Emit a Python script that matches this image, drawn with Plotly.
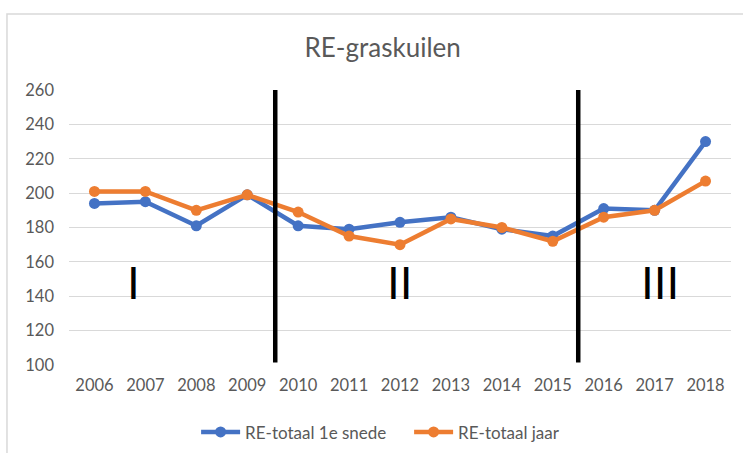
import plotly.graph_objects as go

years = ["2006", "2007", "2008", "2009", "2010", "2011", "2012",
         "2013", "2014", "2015", "2016", "2017", "2018"]
re_totaal_1e_snede = [194, 195, 181, 199, 181, 179, 183, 186, 179, 175, 191, 190, 230]
re_totaal_jaar = [201, 201, 190, 199, 189, 175, 170, 185, 180, 172, 186, 190, 207]
phase_labels = ["I", "II", "III"]
phase_label_x = [0.77, 6.0, 11.1]
phase_label_y = [148, 148, 148]
phase_boundaries = [3.55, 9.5]

BLUE = "#4472C4"
ORANGE = "#ED7D31"
GRAY_TEXT = "#595959"
GRID = "#D9D9D9"

fig = go.Figure()
fig.add_trace(go.Scatter(
    x=years, y=re_totaal_1e_snede, name="RE-totaal 1e snede",
    mode="lines+markers",
    line=dict(color=BLUE, width=4.5),
    marker=dict(color=BLUE, size=11),
))
fig.add_trace(go.Scatter(
    x=years, y=re_totaal_jaar, name="RE-totaal jaar",
    mode="lines+markers",
    line=dict(color=ORANGE, width=4.5),
    marker=dict(color=ORANGE, size=11),
))

shapes = [
    dict(type="rect", xref="paper", yref="paper",
         x0=-0.0937, x1=1.2, y0=-0.6, y1=1.276,
         line=dict(color=GRID, width=1.5), fillcolor="rgba(0,0,0,0)",
         layer="below"),
]
for xb in phase_boundaries:
    shapes.append(dict(type="line", xref="x", yref="y",
                       x0=xb, x1=xb, y0=101.5, y1=260.5,
                       line=dict(color="black", width=4.5), layer="above"))

annotations = []
for lab, xa, ya in zip(phase_labels, phase_label_x, phase_label_y):
    annotations.append(dict(x=xa, y=ya, xref="x", yref="y", text=lab,
                            showarrow=False,
                            font=dict(family="Liberation Sans", size=46, color="black")))

fig.update_layout(
    width=743, height=453,
    paper_bgcolor="white", plot_bgcolor="white",
    margin=dict(l=69, r=12, t=90, b=88, autoexpand=False),
    title=dict(text="RE-graskuilen", x=0.515, xanchor="center", y=0.894, yanchor="middle",
               font=dict(family="Lato", size=26, color=GRAY_TEXT)),
    font=dict(family="Lato", size=16, color=GRAY_TEXT),
    showlegend=True,
    legend=dict(orientation="h", x=0.192, xanchor="left", y=-0.245, yanchor="middle",
                font=dict(family="Lato", size=17, color=GRAY_TEXT),
                itemwidth=39, entrywidth=159, entrywidthmode="pixels"),
    xaxis=dict(type="category", range=[-0.5, 12.5], autorange=False,
               showgrid=False, showline=False, zeroline=False,
               ticks="", ticklabelstandoff=8, automargin=False,
               tickfont=dict(family="Lato", size=16.5, color=GRAY_TEXT)),
    yaxis=dict(range=[100, 260], dtick=20, showgrid=True, gridcolor=GRID, gridwidth=1.2,
               zeroline=False, showline=False, ticks="", ticklabelstandoff=14,
               automargin=False,
               tickfont=dict(family="Lato", size=16.5, color=GRAY_TEXT)),
    shapes=shapes,
    annotations=annotations,
)

fig.write_html("out.html", config={"displayModeBar": False},
               post_script="document.body.style.margin='0px';document.body.style.overflow='hidden';")
